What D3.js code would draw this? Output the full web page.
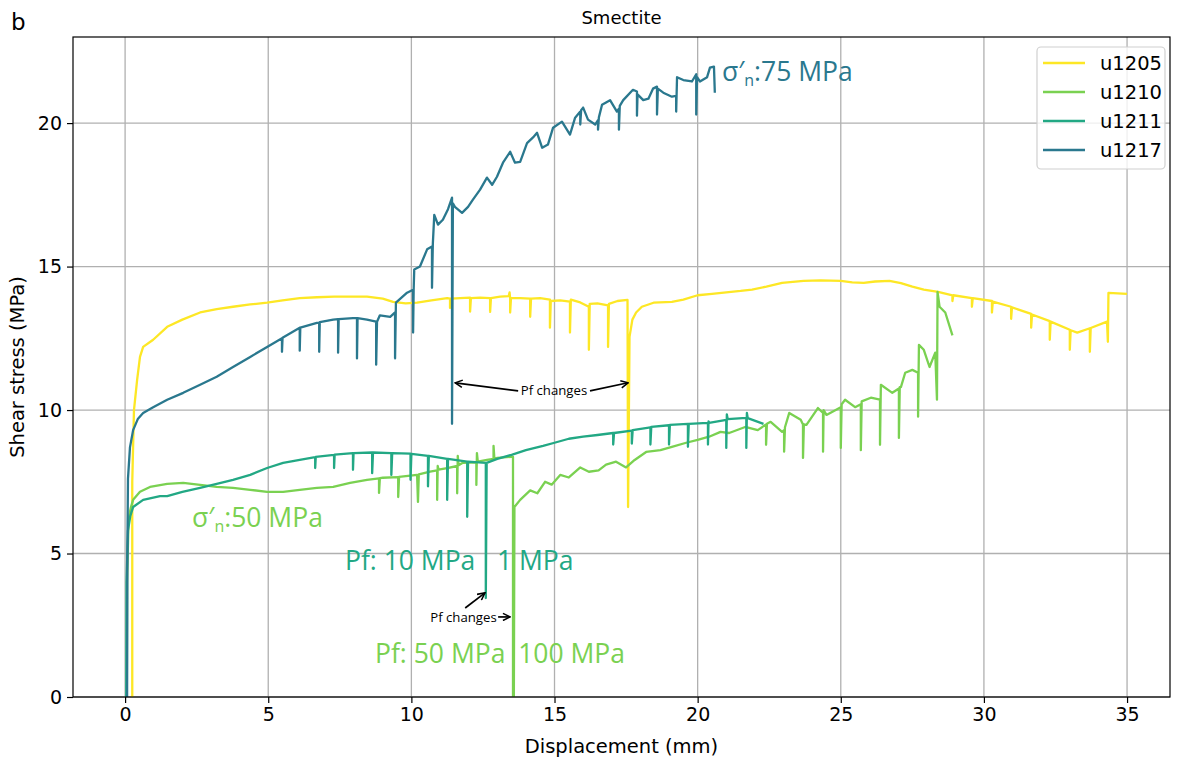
<!DOCTYPE html>
<html>
<head>
<meta charset="utf-8">
<script src="https://cdn.jsdelivr.net/npm/d3@7"></script>
<style>
  body { margin: 0; background: #fff; }
  text { font-family: "DejaVu Sans", sans-serif; }
  .note { font-family: "Open Sans", sans-serif; }
</style>
</head>
<body>
<svg id="chart"></svg>
<script>
// runs shown in the legend
var runs = ["u1205", "u1210", "u1211", "u1217"];
var colors = ["#fde725", "#7ad151", "#22a884", "#2a788e"];

// tick labels
var xTicks = [0, 5, 10, 15, 20, 25, 30, 35];
var yTicks = [0, 5, 10, 15, 20];

// displacement (mm), shear stress (MPa)
var u1205 = [[0.25,0],[0.25,7.5],[0.31,10],[0.42,11.05],[0.52,11.85],[0.63,12.2],[0.98,12.45],[1.47,12.9],[2.0,13.15],[2.62,13.4],[3.2,13.52],[3.77,13.6],[4.37,13.68],[4.96,13.74],[5.5,13.82],[6.1,13.9],[6.7,13.93],[7.3,13.95],[7.9,13.95],[8.45,13.95],[9.0,13.88],[9.36,13.77],[9.8,13.72],[10.2,13.74],[10.7,13.82],[11.25,13.9],[11.35,13.88],[11.35,13.56],[11.38,13.88],[11.7,13.9],[12.05,13.92],[12.05,13.43],[12.08,13.9],[12.4,13.92],[12.75,13.9],[12.75,13.42],[12.78,13.9],[13.1,13.95],[13.4,13.97],[13.43,14.1],[13.45,13.9],[13.45,13.4],[13.48,13.9],[13.8,13.9],[14.15,13.88],[14.15,13.25],[14.18,13.88],[14.5,13.9],[14.84,13.85],[14.84,12.87],[14.87,13.8],[15.2,13.82],[15.54,13.78],[15.54,12.7],[15.57,13.85],[15.9,13.75],[16.2,13.6],[16.2,12.1],[16.23,13.7],[16.5,13.72],[16.87,13.65],[16.87,12.2],[16.9,13.7],[17.2,13.8],[17.55,13.84],[17.57,6.62],[17.62,12.55],[17.72,13.15],[17.85,13.4],[18.05,13.6],[18.46,13.74],[19.1,13.77],[19.5,13.85],[20.0,14.0],[20.5,14.05],[21.0,14.1],[21.5,14.15],[21.9,14.2],[22.4,14.3],[22.95,14.43],[23.7,14.5],[24.3,14.52],[25.0,14.5],[25.4,14.45],[25.8,14.43],[26.2,14.48],[26.7,14.5],[27.1,14.42],[27.5,14.3],[27.9,14.2],[28.4,14.12],[28.9,14.0],[28.9,13.8],[28.93,14.0],[29.58,13.9],[29.58,13.6],[29.61,13.9],[30.28,13.8],[30.28,13.4],[30.31,13.78],[30.95,13.6],[30.95,13.18],[30.98,13.58],[31.65,13.35],[31.65,12.87],[31.68,13.33],[32.3,13.1],[32.3,12.45],[32.33,13.08],[33.0,12.8],[33.0,12.1],[33.03,12.78],[33.26,12.7],[33.7,12.85],[33.7,12.03],[33.73,12.86],[34.3,13.08],[34.33,12.38],[34.35,14.08],[35.0,14.05]];

var u1210 = [[0.06,0],[0.07,4],[0.12,6.2],[0.2,6.6],[0.28,6.87],[0.52,7.15],[0.87,7.32],[1.47,7.43],[2.03,7.46],[2.62,7.39],[3.2,7.32],[3.77,7.29],[4.37,7.22],[4.96,7.15],[5.52,7.15],[6.1,7.22],[6.7,7.29],[7.27,7.32],[7.86,7.46],[8.45,7.57],[8.87,7.62],[8.87,7.11],[8.9,7.63],[9.0,7.64],[9.54,7.66],[9.54,6.97],[9.57,7.67],[10.2,7.74],[10.23,6.8],[10.26,7.76],[10.65,7.85],[10.9,7.9],[10.9,6.87],[10.92,8.05],[10.95,7.92],[11.25,7.98],[11.6,8.05],[11.6,7.1],[11.62,8.4],[11.65,8.08],[11.8,8.16],[12.27,8.18],[12.27,7.39],[12.29,8.5],[12.32,8.2],[12.64,8.26],[12.87,8.3],[12.87,8.75],[12.9,8.3],[13.0,8.33],[13.5,8.37],[13.55,8.37],[13.55,0],[13.58,0],[13.6,6.62],[13.8,6.87],[14.15,7.2],[14.4,7.1],[14.67,7.5],[14.9,7.4],[15.2,7.74],[15.5,7.65],[15.9,8.0],[16.2,7.85],[16.54,7.9],[16.8,8.1],[17.15,8.2],[17.5,8.0],[17.8,8.26],[18.2,8.54],[18.7,8.6],[19.1,8.72],[19.6,8.86],[20.0,8.96],[20.4,9.07],[20.8,9.24],[21.1,9.2],[21.66,9.41],[22.1,9.3],[22.39,9.5],[22.39,8.79],[22.42,9.52],[22.55,9.59],[22.95,9.24],[23.02,9.3],[23.02,8.55],[23.05,9.4],[23.2,9.9],[23.6,9.66],[23.68,9.5],[23.68,8.33],[23.71,9.5],[23.8,9.48],[24.2,10.07],[24.38,9.9],[24.38,8.55],[24.4,10.0],[24.5,9.83],[25.0,10.1],[25.0,8.68],[25.03,10.2],[25.15,10.36],[25.5,10.1],[25.7,10.2],[25.7,8.6],[25.73,10.3],[26.05,10.43],[26.37,10.36],[26.37,8.79],[26.4,10.88],[26.8,10.6],[27.03,10.75],[27.03,9.03],[27.06,10.8],[27.1,10.8],[27.25,11.3],[27.5,11.4],[27.7,11.3],[27.7,9.77],[27.73,12.27],[27.9,12.1],[28.1,11.5],[28.3,12.0],[28.36,10.36],[28.38,14.12],[28.45,13.6],[28.65,13.4],[28.9,12.6]];

var u1211 = [[0.04,0],[0.05,4],[0.1,5.8],[0.18,6.3],[0.28,6.62],[0.63,6.87],[1.22,7.0],[1.47,7.0],[2.0,7.15],[2.62,7.29],[3.2,7.43],[3.77,7.57],[4.37,7.74],[4.96,7.98],[5.52,8.16],[6.1,8.26],[6.64,8.36],[6.64,7.98],[6.66,8.37],[7.3,8.44],[7.3,7.98],[7.32,8.45],[7.96,8.5],[7.96,7.92],[7.98,8.5],[8.63,8.52],[8.63,7.8],[8.66,8.52],[9.3,8.5],[9.3,7.74],[9.33,8.5],[9.97,8.48],[9.97,7.57],[10.0,8.47],[10.58,8.4],[10.58,7.34],[10.61,8.4],[11.25,8.3],[11.25,6.87],[11.28,8.3],[11.95,8.2],[11.95,6.28],[11.98,8.2],[12.6,8.16],[12.6,3.45],[12.63,8.16],[13.0,8.3],[13.5,8.44],[14.0,8.6],[14.6,8.75],[15.0,8.86],[15.5,9.0],[16.0,9.07],[16.5,9.13],[17.05,9.2],[17.05,8.8],[17.08,9.2],[17.7,9.28],[17.7,8.83],[17.73,9.3],[18.35,9.4],[18.35,8.8],[18.38,9.41],[19.0,9.47],[19.0,8.8],[19.03,9.48],[19.66,9.52],[19.66,8.72],[19.69,9.52],[20.36,9.55],[20.36,8.8],[20.38,9.6],[20.4,9.55],[21.0,9.66],[21.0,8.68],[21.02,9.85],[21.05,9.68],[21.7,9.73],[21.7,8.68],[21.72,9.9],[21.75,9.72],[22.3,9.52]];

var u1217 = [[0.07,0],[0.08,5],[0.1,7.6],[0.17,8.7],[0.28,9.3],[0.45,9.7],[0.63,9.9],[0.98,10.1],[1.47,10.36],[2.03,10.6],[2.62,10.88],[3.2,11.16],[3.77,11.5],[4.37,11.85],[4.96,12.2],[5.48,12.5],[5.48,12.03],[5.5,12.52],[6.1,12.87],[6.1,12.07],[6.12,12.87],[6.7,13.04],[6.78,13.05],[6.78,12.03],[6.8,13.06],[7.27,13.15],[7.44,13.17],[7.44,12.0],[7.46,13.17],[7.96,13.2],[8.1,13.2],[8.1,11.8],[8.12,13.2],[8.45,13.15],[8.77,13.08],[8.77,11.58],[8.8,13.08],[8.9,13.3],[9.26,13.25],[9.43,13.4],[9.43,11.8],[9.46,13.74],[9.85,14.09],[10.06,14.19],[10.06,12.7],[10.08,14.2],[10.1,14.9],[10.3,15.0],[10.55,15.6],[10.72,15.7],[10.72,14.26],[10.75,15.8],[10.8,16.8],[10.93,16.46],[11.1,16.63],[11.28,17.0],[11.42,17.4],[11.42,9.52],[11.45,17.2],[11.52,17.08],[11.77,16.87],[11.98,17.08],[12.15,17.33],[12.4,17.68],[12.64,18.1],[12.82,17.85],[12.99,18.13],[13.2,18.62],[13.45,19.0],[13.62,18.62],[13.8,18.65],[14.04,19.3],[14.25,19.5],[14.39,19.66],[14.57,19.14],[14.77,19.25],[14.95,19.84],[15.26,20.05],[15.54,19.6],[15.72,20.19],[15.9,20.4],[15.9,19.95],[15.93,20.45],[16.0,20.54],[16.17,20.12],[16.42,19.95],[16.52,20.1],[16.52,19.77],[16.55,20.2],[16.66,20.64],[16.94,20.8],[17.18,20.4],[17.25,20.5],[17.25,19.77],[17.28,20.6],[17.4,20.8],[17.74,21.16],[17.88,21.1],[17.88,20.26],[17.9,21.0],[18.1,20.8],[18.28,20.85],[18.44,21.2],[18.58,21.27],[18.58,20.3],[18.61,21.2],[18.8,21.06],[19.1,20.92],[19.25,20.95],[19.25,20.4],[19.28,21.6],[19.5,21.5],[19.8,21.45],[19.95,21.7],[19.95,20.3],[19.98,21.6],[20.08,21.45],[20.33,21.6],[20.43,21.93],[20.57,21.97],[20.6,21.06]];

var series = [u1205, u1210, u1211, u1217];

var W = 1184, H = 762;
var pL = 73, pR = 1170, pT = 37, pB = 697;

var svg = d3.select("#chart").attr("width", W).attr("height", H);

var x = d3.scaleLinear().domain([-1.82, 36.5]).range([pL, pR]);
var y = d3.scaleLinear().domain([0, 23]).range([pB, pT]);

var defs = svg.append("defs");
defs.append("clipPath").attr("id", "plotclip")
  .append("rect").attr("x", pL).attr("y", pT)
  .attr("width", pR - pL).attr("height", pB - pT);

// grid
var grid = svg.append("g");
grid.selectAll(".gx").data(xTicks).enter().append("line")
  .attr("x1", function(d) { return x(d); }).attr("x2", function(d) { return x(d); })
  .attr("y1", pT).attr("y2", pB)
  .style("stroke", "#b0b0b0").style("stroke-width", 1.3);
grid.selectAll(".gy").data(yTicks).enter().append("line")
  .attr("x1", pL).attr("x2", pR)
  .attr("y1", function(d) { return y(d); }).attr("y2", function(d) { return y(d); })
  .style("stroke", "#b0b0b0").style("stroke-width", 1.3);

// lines
var line = d3.line()
  .x(function(d) { return x(d[0]); })
  .y(function(d) { return y(d[1]); });

svg.append("g").attr("clip-path", "url(#plotclip)")
  .selectAll("path").data(series).enter().append("path")
  .attr("d", line)
  .style("fill", "none")
  .style("stroke", function(d, i) { return colors[i]; })
  .style("stroke-width", 2.3)
  .style("stroke-linejoin", "round");

// axes
var xAxis = svg.append("g").attr("transform", "translate(0," + pB + ")")
  .call(d3.axisBottom(x).tickValues(xTicks).tickSize(6).tickPadding(5));
var yAxis = svg.append("g").attr("transform", "translate(" + pL + ",0)")
  .call(d3.axisLeft(y).tickValues(yTicks).tickSize(6).tickPadding(5));
[xAxis, yAxis].forEach(function(a) {
  a.select(".domain").remove();
  a.selectAll("line").style("stroke", "#000").style("stroke-width", 1.2);
  a.selectAll("text").style("font-size", "19px").style("fill", "#000")
    .style("font-family", "DejaVu Sans");
});

svg.append("rect").attr("x", pL).attr("y", pT)
  .attr("width", pR - pL).attr("height", pB - pT)
  .style("fill", "none").style("stroke", "#000").style("stroke-width", 1.2);

// labels
svg.append("text").attr("x", (pL + pR) / 2).attr("y", 753)
  .attr("text-anchor", "middle").style("font-size", "19.5px").text("Displacement (mm)");
svg.append("text").attr("transform", "translate(24," + ((pT + pB) / 2) + ") rotate(-90)")
  .attr("text-anchor", "middle").style("font-size", "19.5px").text("Shear stress (MPa)");
svg.append("text").attr("x", (pL + pR) / 2).attr("y", 24)
  .attr("text-anchor", "middle").style("font-size", "18px").text("Smectite");
svg.append("text").attr("x", 11).attr("y", 30).style("font-size", "23px").text("b");

// annotations
function sigma(xv, yv, rest, color) {
  var t = svg.append("text").attr("class", "note")
    .attr("x", x(xv)).attr("y", y(yv))
    .style("font-size", "26.5px").style("fill", color);
  t.append("tspan").text("σ′");
  t.append("tspan").attr("dy", 5).style("font-size", "16px").text("n");
  t.append("tspan").attr("dy", -5).text(rest);
}
sigma(20.85, 21.48, ":75 MPa", colors[3]);
sigma(2.34, 5.93, ":50 MPa", colors[1]);

function note(xv, yv, s, color, size, anchor) {
  svg.append("text").attr("class", "note")
    .attr("x", x(xv)).attr("y", y(yv))
    .attr("text-anchor", anchor || "start")
    .style("font-size", size + "px").style("fill", color).text(s);
}
note(7.68, 4.43, "Pf: 10 MPa", colors[2], 26.5);
note(12.99, 4.43, "1 MPa", colors[2], 26.5);
note(8.73, 1.19, "Pf: 50 MPa", colors[1], 26.5);
note(13.73, 1.19, "100 MPa", colors[1], 26.5);
note(14.98, 10.53, "Pf changes", "#000", 13.2, "middle");
note(11.82, 2.61, "Pf changes", "#000", 13.2, "middle");

defs.append("marker").attr("id", "head")
  .attr("viewBox", "0 0 10 10").attr("refX", 9).attr("refY", 5)
  .attr("markerWidth", 9).attr("markerHeight", 9).attr("orient", "auto")
  .attr("markerUnits", "userSpaceOnUse")
  .append("path").attr("d", "M1,1 L9,5 L1,9")
  .style("fill", "none").style("stroke", "#000").style("stroke-width", 1.7);

var arrows = [
  [[13.73, 10.67], [11.53, 10.95]],
  [[16.24, 10.67], [17.57, 10.95]],
  [[11.88, 3.10], [12.57, 3.63]],
  [[13.03, 2.79], [13.45, 2.79]]
];
svg.selectAll(".arrow").data(arrows).enter().append("line")
  .attr("x1", function(d) { return x(d[0][0]); }).attr("y1", function(d) { return y(d[0][1]); })
  .attr("x2", function(d) { return x(d[1][0]); }).attr("y2", function(d) { return y(d[1][1]); })
  .style("stroke", "#000").style("stroke-width", 1.7)
  .attr("marker-end", "url(#head)");

// legend
var lg = svg.append("g");
lg.append("rect").attr("x", 1037).attr("y", 47).attr("width", 128).attr("height", 122)
  .attr("rx", 4).style("fill", "#fff").style("fill-opacity", 0.8)
  .style("stroke", "#d0d0d0").style("stroke-width", 1.2);
runs.forEach(function(r, i) {
  var yy = 63 + i * 29;
  lg.append("line").attr("x1", 1043).attr("x2", 1085).attr("y1", yy).attr("y2", yy)
    .style("stroke", colors[i]).style("stroke-width", 2.3);
  lg.append("text").attr("x", 1100).attr("y", yy + 7).style("font-size", "19.5px").text(r);
});
</script>
</body>
</html>
